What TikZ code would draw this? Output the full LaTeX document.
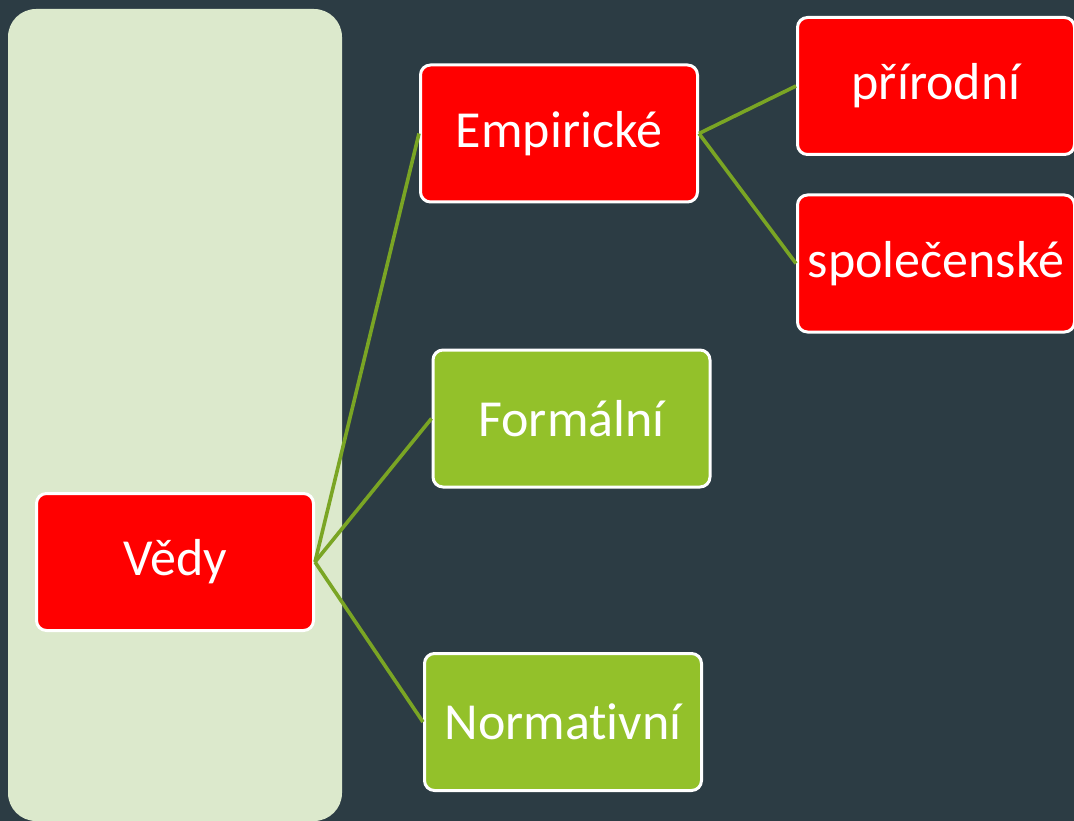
\documentclass[tikz,border=0pt]{standalone}
\usepackage{fontspec}
\setmainfont[Ligatures=NoCommon]{Carlito}
\usepackage{xcolor}

\definecolor{slate}{HTML}{2C3C44}
\definecolor{panelgreen}{HTML}{DCE9CC}
\definecolor{boxred}{HTML}{FF0000}
\definecolor{boxgreen}{HTML}{93C12A}
\definecolor{linkgreen}{HTML}{7AA524}

\begin{document}
\begin{tikzpicture}[x=1pt,y=-1pt,
    box/.style={draw=white,line width=3pt,rounded corners=10pt,
        minimum width=277pt,minimum height=137pt,inner sep=0pt,
        text=white,font=\fontsize{52}{60}\selectfont},
    redbox/.style={box,fill=boxred},
    greenbox/.style={box,fill=boxgreen},
    link/.style={draw=linkgreen,line width=3.6pt}]
        % background and panel
        \fill[slate] (0,0) rectangle (1074,821);
        \useasboundingbox (0,0) rectangle (1074,821);
        \fill[panelgreen,rounded corners=28pt] (8,9) rectangle (342,821);

        % boxes
        \node[redbox] (vedy) at (175,562) {Vědy};
        \node[redbox] (empiricke) at (559,133.5) {Empirické};
        \node[greenbox] (formalni) at (571.5,418.5) {Formální};
        \node[greenbox] (normativni) at (563,722) {Normativní};
        \node[redbox] (prirodni) at (936,86) {přírodní};
        \node[redbox] (spolecenske) at (936,263.5) {společenské};

        % links
        \draw[link] (vedy.east) -- (empiricke.west);
        \draw[link] (vedy.east) -- (formalni.west);
        \draw[link] (vedy.east) -- (normativni.west);
        \draw[link] (empiricke.east) -- (prirodni.west);
        \draw[link] (empiricke.east) -- (spolecenske.west);
    \end{tikzpicture}
\end{document}
